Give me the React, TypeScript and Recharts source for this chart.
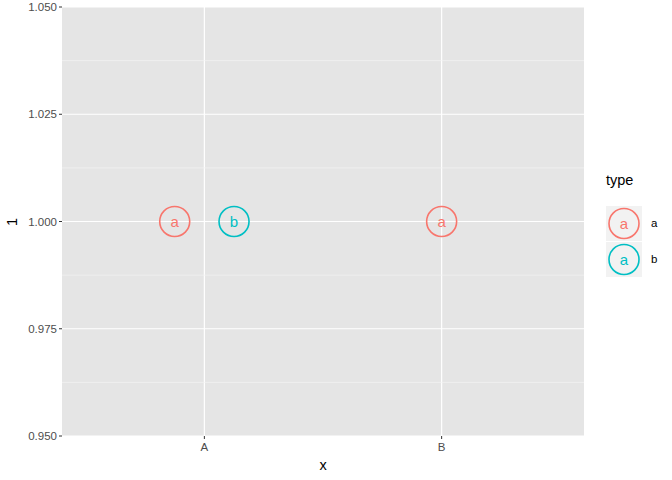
import React from "react";
import {
  ScatterChart, Scatter, XAxis, YAxis, CartesianGrid, ReferenceLine,
} from "recharts";

const categories = ["A", "B"];
const types = ["a", "b"];
const obsX = ["A", "A", "B"];
const obsType = ["a", "b", "a"];
const obsY = [1, 1, 1];

const yTicks = [0.95, 0.975, 1.0, 1.025, 1.05];
const yMinor = [0.9625, 0.9875, 1.0125, 1.0375];

const colors: Record<string, string> = { a: "#F8766D", b: "#00BFC4" };
const font = "'Liberation Sans', Arial, Helvetica, sans-serif";

// position_dodge-like offset within each category
const dodgeWidth = 0.5;
const points = obsX.map((cat, i) => {
  const same = obsX.map((c, j) => (c === cat ? j : -1)).filter((j) => j >= 0);
  const n = same.length;
  const k = same.indexOf(i);
  const offset = n > 1 ? ((k + 0.5) / n - 0.5) * dodgeWidth : 0;
  return {
    x: categories.indexOf(cat) + 1 + offset,
    y: obsY[i],
    type: obsType[i],
    label: obsType[i],
  };
});

const TextPoint = (props: any) => {
  const { cx, cy, payload } = props;
  const c = colors[payload.type];
  return (
    <g>
      <circle cx={cx} cy={cy} r={15} fill="none" stroke={c} strokeWidth={1.6} />
      <text x={cx} y={cy} dy={5} textAnchor="middle" fontSize={15} fill={c} fontFamily={font}>
        {payload.label}
      </text>
    </g>
  );
};

export default function App() {
  return (
    <div style={{ position: "absolute", left: 0, top: 0, width: 672, height: 480, background: "#fff", fontFamily: font }}>
      <ScatterChart width={672} height={480} margin={{ top: 7, right: 88, left: 18, bottom: 20 }} style={{ overflow: "visible" }}>
        <CartesianGrid fill="#E5E5E5" stroke="#FFFFFF" strokeWidth={1.2} verticalValues={[1, 2]} horizontalValues={yTicks} />
        {yMinor.map((v) => (
          <ReferenceLine key={v} y={v} stroke="#F4F4F4" strokeWidth={0.7} />
        ))}
        <XAxis
          type="number"
          dataKey="x"
          domain={[0.4, 2.6]}
          ticks={[1, 2]}
          tickFormatter={(v) => categories[v - 1]}
          axisLine={false}
          tickSize={3}
          tickMargin={4}
          tickLine={{ stroke: "#333333" }}
          tick={{ fill: "#4D4D4D", fontSize: 11.5, fontFamily: font }}
          height={24}
          allowDataOverflow
          label={{ value: "x", position: "bottom", offset: 0, fill: "#000", fontSize: 14.5, fontFamily: font }}
        />
        <YAxis
          type="number"
          dataKey="y"
          domain={[0.95, 1.05]}
          ticks={yTicks}
          tickFormatter={(v) => v.toFixed(3)}
          axisLine={false}
          tickSize={3}
          tickLine={{ stroke: "#333333" }}
          tick={{ fill: "#4D4D4D", fontSize: 11.5, fontFamily: font }}
          width={44}
          allowDataOverflow
        />
        {types.map((t) => (
          <Scatter
            key={t}
            name={t}
            data={points.filter((p) => p.type === t)}
            shape={TextPoint}
            isAnimationActive={false}
          />
        ))}
        <text x={17} y={222} transform="rotate(-90 17 222)" textAnchor="middle" fontSize={14.5} fill="#000" fontFamily={font}>1</text>
      </ScatterChart>
      <div style={{ position: "absolute", left: 606, top: 172, fontSize: 14.5, color: "#000" }}>type</div>
      {types.map((t, i) => (
        <div key={t} style={{ position: "absolute", left: 606, top: 206 + i * 36 }}>
          <svg width={36} height={35} style={{ display: "block" }}>
            <rect x={0} y={0} width={36} height={35} fill="#F2F2F2" />
            <circle cx={18} cy={17.5} r={15} fill="none" stroke={colors[t]} strokeWidth={1.6} />
            <text x={18} y={22.5} textAnchor="middle" fontSize={15} fill={colors[t]} fontFamily={font}>a</text>
          </svg>
          <div style={{ position: "absolute", left: 45, top: 11, fontSize: 11.5, color: "#000" }}>{t}</div>
        </div>
      ))}
    </div>
  );
}
